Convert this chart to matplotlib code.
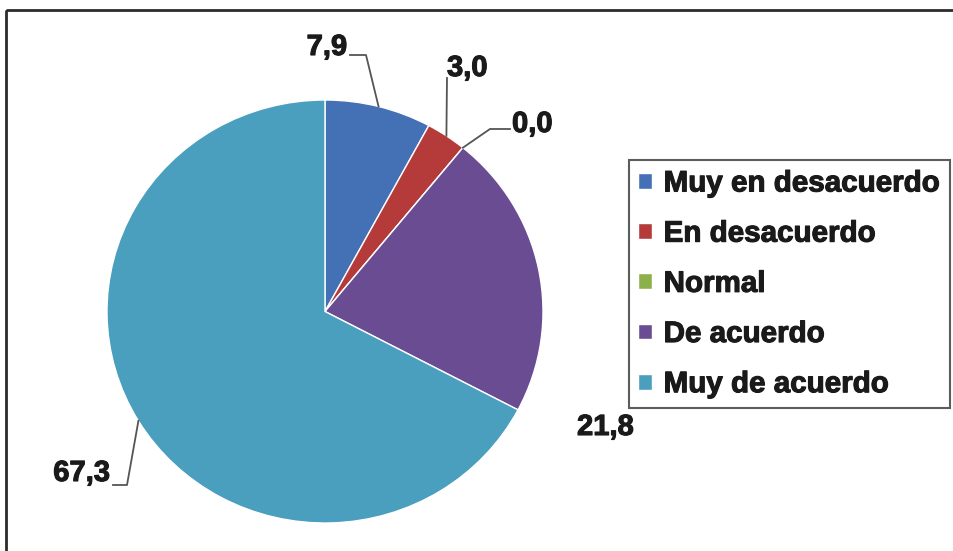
# Imports
import numpy as np
import matplotlib
matplotlib.use('Agg')
import matplotlib.pyplot as plt
import matplotlib.patheffects as pe
from matplotlib.patches import Rectangle

# Data
categories = ['Muy en desacuerdo', 'En desacuerdo', 'Normal', 'De acuerdo', 'Muy de acuerdo']
values = [7.9, 3.0, 0.0, 21.8, 67.3]
value_labels = ['7,9', '3,0', '0,0', '21,8', '67,3']
colors = ['#4470b6', '#b53a3a', '#8db14a', '#6a4c93', '#4a9ebe']

# Figure size in pixels
W, H = 954, 551

plt.rcParams['font.family'] = ['Liberation Sans', 'DejaVu Sans']

# Pie box in image pixels (slightly squashed, as in the original)
left, right, top, bottom = 107, 543, 100, 523
cx, cy = (left + right) / 2, (top + bottom) / 2
rx, ry = (right - left) / 2, (bottom - top) / 2

# Create a figure
fig = plt.figure(figsize=(W / 100, H / 100), dpi=100)

# Axis for the pie only, stretched to the pie box
ax_pie = fig.add_axes([left / W, 1 - bottom / H, (right - left) / W, (bottom - top) / H])
wedges, _ = ax_pie.pie(values, colors=colors, startangle=90, counterclock=False,
                       radius=1, frame=True,
                       wedgeprops=dict(edgecolor='white', linewidth=1))
ax_pie.set_aspect('auto')
ax_pie.set_xlim(-1, 1)
ax_pie.set_ylim(-1, 1)
ax_pie.axis('off')

# Overlay axis in pixel units (y down) for the frame, labels and legend
ax = fig.add_axes([0, 0, 1, 1])
ax.set_xlim(0, W)
ax.set_ylim(H, 0)
ax.axis('off')
ax.patch.set_alpha(0)

# Outer frame of the chart (runs off the right and bottom edges)
ax.add_patch(Rectangle((6, 10), 1000, 600, fill=False,
                       edgecolor='#2b2b2b', linewidth=2))

# Label positions (image pixels): text anchor, alignment and leader elbow
label_pos = [(347, 47, 'right', (366, 55)),
             (447, 68, 'left', (447, 78)),
             (512, 124, 'left', (490, 129)),
             (577, 427, 'left', None),
             (110, 473, 'right', (127, 485))]

bold_fx = [pe.withStroke(linewidth=0.8, foreground='#1a1a1a')]

# Draw labels with leader lines to the middle of each wedge
for w, text, (lx, ly, ha, elbow) in zip(wedges, value_labels, label_pos):
    ang = np.deg2rad((w.theta1 + w.theta2) / 2)
    end_x = cx + rx * np.cos(ang)
    end_y = cy - ry * np.sin(ang)
    t = ax.text(lx, ly, text, ha=ha, va='center', fontsize=21,
                fontweight='bold', color='#1a1a1a')
    t.set_path_effects(bold_fx)
    if elbow is not None:
        ex, ey = elbow
        if text == '3,0':
            xs, ys = [ex, end_x], [ey, end_y]
        else:
            sx = lx + (3 if ha == 'right' else -2)
            xs, ys = [sx, ex, end_x], [ey, ey, end_y]
        ax.plot(xs, ys, color='#555555', linewidth=1.3)

# Legend
leg = ax.legend(wedges, categories, loc='upper left',
                bbox_to_anchor=(629 / W, 1 - 160 / H),
                fontsize=21.3, frameon=True, fancybox=False,
                edgecolor='#333333', handlelength=0.45, handleheight=0.45,
                handletextpad=0.4, labelspacing=0.75, borderpad=0.32,
                borderaxespad=0)
leg.get_frame().set_linewidth(1.5)
for t in leg.get_texts():
    t.set_fontweight('bold')
    t.set_color('#1a1a1a')
    t.set_path_effects(bold_fx)

# Save the figure
fig.savefig('out.png', dpi=100)
